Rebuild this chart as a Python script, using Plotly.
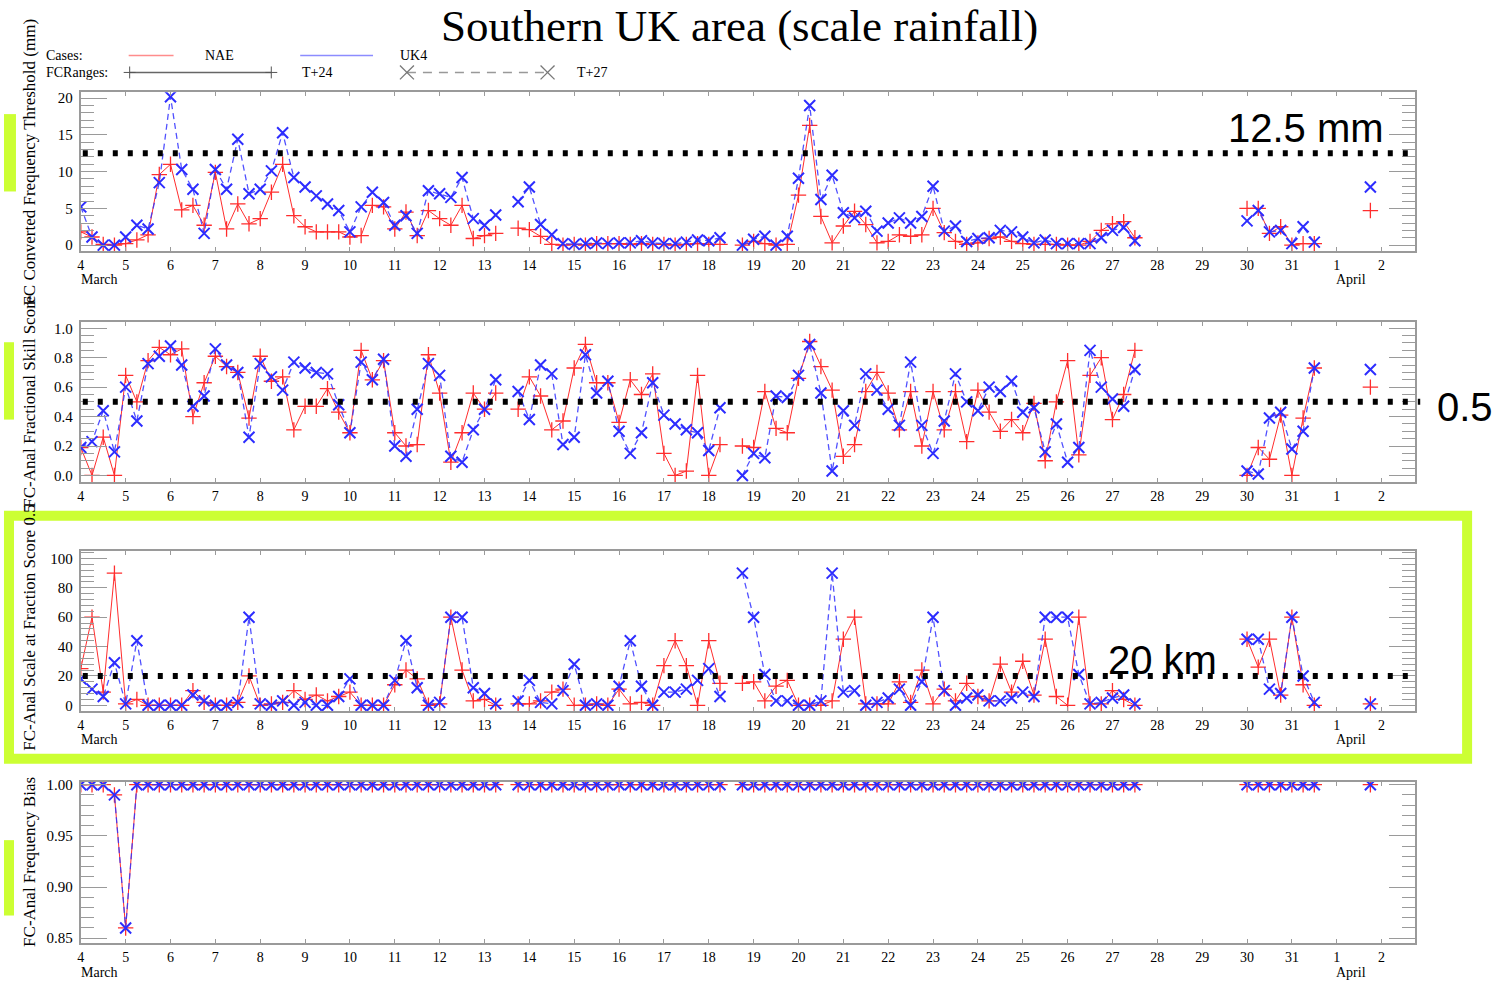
import plotly.graph_objects as go

W, H = 1505, 981

# ---------------- data ----------------
# 6-hourly validity times, expressed in days of March (32.75 = 18Z 1 April)
times = [4 + 0.25 * i for i in range(116)]

# FC converted frequency threshold (mm)
thr_nae = [1.8, 1.1, 0.1, 0.0, 0.2, 0.7, 1.4, 9.6, 11.0, 4.8, 5.4, 2.7, 9.9, 2.2, 5.6, 2.9, 3.6, 7.2, 11.0, 4.0,
           2.5, 1.8, 1.8, 1.8, 1.1, 1.3, 5.4, 5.2, 2.2, 4.5, 1.3, 4.7, 3.6, 2.7, 5.4, 0.9, 1.3, 1.6,
           None,
           2.3, 2.1, 1.2, 0.1, 0.0, 0.1, 0.0, 0.2, 0.2, 0.2, 0.1, 0.2, 0.1, 0.1, 0.0, 0.1, 0.2, 0.1, 0.1,
           None,
           0.0, 0.5, 0.2, 0.0, 0.1, 6.8, 16.3, 3.9, 0.3, 2.6, 4.6, 2.8, 0.3, 0.5, 1.4, 1.2, 1.4, 5.0, 1.7, 0.5,
           0.1, 0.3, 0.9, 1.1, 0.5, 0.2, 0.1, 0.1, 0.1, 0.0, 0.0, 0.5, 2.0, 2.9, 3.2, 1.0,
           None, None, None, None, None, None, None, None, None,
           5.0, 5.0, 1.6, 2.5, 0.0, 0.2, 0.2,
           None, None, None, None,
           4.7]
thr_uk4 = [5.2, 1.1, 0.0, 0.0, 1.1, 2.7, 2.2, 8.5, 20.2, 10.3, 7.6, 1.6, 10.3, 7.6, 14.4, 7.0, 7.6, 10.1, 15.3, 9.2,
           7.9, 6.7, 5.6, 4.7, 1.8, 5.2, 7.2, 5.8, 2.7, 4.0, 1.6, 7.4, 7.0, 6.5, 9.2, 3.6, 2.7, 4.1,
           None,
           5.9, 7.9, 2.8, 1.4, 0.2, 0.1, 0.2, 0.3, 0.2, 0.3, 0.3, 0.6, 0.3, 0.2, 0.2, 0.4, 0.7, 0.6, 1.0,
           None,
           0.0, 0.8, 1.2, 0.0, 1.2, 9.1, 19.0, 6.2, 9.5, 4.4, 3.7, 4.6, 1.9, 3.0, 3.7, 3.0, 3.9, 8.0, 1.9, 2.6,
           0.5, 0.9, 1.0, 2.0, 1.8, 1.1, 0.3, 0.7, 0.2, 0.2, 0.2, 0.2, 1.0, 2.0, 2.4, 0.6,
           None, None, None, None, None, None, None, None, None,
           3.3, 4.7, 1.8, 2.0, 0.2, 2.5, 0.4,
           None, None, None, None,
           7.9]

# FC-Anal fractional skill score
fss_nae = [0.19, 0.0, 0.26, 0.0, 0.68, 0.50, 0.78, 0.87, 0.82, 0.86, 0.40, 0.63, 0.81, 0.74, 0.70, 0.39, 0.81, 0.64,
           0.67, 0.31, 0.47, 0.47, 0.59, 0.43, 0.29, 0.85, 0.65, 0.78, 0.29, 0.20, 0.21, 0.82, 0.56, 0.09, 0.29,
           0.56, 0.45, 0.56,
           None,
           0.45, 0.67, 0.54, 0.31, 0.37, 0.73, 0.89, 0.63, 0.63, 0.36, 0.65, 0.55, 0.69, 0.15, 0.0, 0.03, 0.68,
           0.0, 0.21,
           None,
           0.20, 0.19, 0.57, 0.32, 0.29, 0.66, 0.91, 0.74, 0.58, 0.13, 0.21, 0.57, 0.70, 0.56, 0.31, 0.57, 0.20,
           0.57, 0.31, 0.57, 0.23, 0.58, 0.43, 0.30, 0.38, 0.29, 0.49, 0.10, 0.50, 0.78, 0.14, 0.68, 0.80, 0.38,
           0.55, 0.85,
           None, None, None, None, None, None, None, None, None,
           0.0, 0.19, 0.11, 0.41, 0.0, 0.39, 0.73,
           None, None, None, None,
           0.60]
fss_uk4 = [0.19, 0.23, 0.44, 0.16, 0.60, 0.37, 0.76, 0.81, 0.88, 0.75, 0.47, 0.54, 0.86, 0.75, 0.70, 0.26, 0.76, 0.67,
           0.58, 0.77, 0.73, 0.70, 0.69, 0.48, 0.29, 0.77, 0.65, 0.79, 0.20, 0.13, 0.45, 0.76, 0.68, 0.13, 0.09,
           0.31, 0.45, 0.65,
           None,
           0.57, 0.38, 0.75, 0.69, 0.21, 0.26, 0.82, 0.56, 0.64, 0.30, 0.15, 0.29, 0.63, 0.41, 0.35, 0.31, 0.29,
           0.17, 0.46,
           None,
           0.0, 0.15, 0.12, 0.54, 0.53, 0.68, 0.89, 0.56, 0.03, 0.44, 0.34, 0.69, 0.58, 0.45, 0.34, 0.77, 0.34,
           0.15, 0.37, 0.69, 0.50, 0.44, 0.60, 0.57, 0.64, 0.43, 0.46, 0.16, 0.35, 0.09, 0.19, 0.85, 0.60, 0.52,
           0.47, 0.72,
           None, None, None, None, None, None, None, None, None,
           0.03, 0.01, 0.39, 0.43, 0.18, 0.30, 0.73,
           None, None, None, None,
           0.72]

# FC-Anal scale (km) at fraction score 0.5
scl_nae = [25, 60, 9, 90, 1, 4, 0, 0, 0, 0, 10, 2, 0, 0, 2, 20, 0, 1, 2, 10, 4, 7, 3, 6, 9, 0, 0, 0, 14, 24, 18, 0,
           1, 60, 24, 3, 4, 0,
           None,
           1, 1, 3, 9, 11, 0, 0, 1, 0, 11, 1, 2, 0, 27, 44, 27, 0, 44, 15,
           None,
           15, 16, 3, 13, 17, 0, 0, 0, 3, 45, 60, 1, 1, 1, 16, 2, 24, 1, 11, 3, 15, 6, 3, 28, 9, 30, 7, 45, 6, 0,
           60, 1, 1, 10, 4, 0,
           None, None, None, None, None, None, None, None, None,
           45, 26, 45, 7, 60, 14, 0,
           None, None, None, None,
           1]
scl_uk4 = [18, 11, 6, 29, 1, 44, 0, 0, 0, 0, 7, 3, 0, 0, 2, 60, 1, 0, 3, 0, 2, 0, 0, 6, 18, 0, 0, 0, 17, 44, 12, 0,
           2, 60, 60, 12, 8, 1,
           None,
           3, 17, 2, 1, 10, 28, 0, 1, 0, 13, 44, 13, 0, 9, 9, 11, 17, 25, 6,
           None,
           90, 60, 21, 3, 3, 0, 0, 3, 90, 9, 10, 0, 2, 5, 11, 0, 16, 60, 10, 0, 5, 7, 3, 3, 5, 9, 6, 60, 60, 60,
           21, 1, 2, 5, 7, 1,
           None, None, None, None, None, None, None, None, None,
           45, 45, 11, 8, 60, 20, 2,
           None, None, None, None,
           1]

# FC-Anal frequency bias
bias_nae = [1.0, 1.0, 1.0, 0.99, 0.86, 1.0, 1.0, 1.0, 1.0, 1.0, 1.0, 1.0, 1.0, 1.0, 1.0, 1.0, 1.0, 1.0, 1.0,
            1.0, 1.0, 1.0, 1.0, 1.0, 1.0, 1.0, 1.0, 1.0, 1.0, 1.0, 1.0, 1.0, 1.0, 1.0, 1.0, 1.0, 1.0, 1.0,
            None,
            1.0, 1.0, 1.0, 1.0, 1.0, 1.0, 1.0, 1.0, 1.0, 1.0, 1.0, 1.0, 1.0, 1.0, 1.0, 1.0, 1.0, 1.0, 1.0,
            None,
            1.0, 1.0, 1.0, 1.0, 1.0, 1.0, 1.0, 1.0, 1.0, 1.0, 1.0, 1.0, 1.0, 1.0, 1.0, 1.0, 1.0, 1.0,
            1.0, 1.0, 1.0, 1.0, 1.0, 1.0, 1.0, 1.0, 1.0, 1.0, 1.0, 1.0, 1.0, 1.0, 1.0, 1.0, 1.0, 1.0,
            None, None, None, None, None, None, None, None, None,
            1.0, 1.0, 1.0, 1.0, 1.0, 1.0, 1.0,
            None, None, None, None,
            1.0]
bias_uk4 = [1.0, 1.0, 1.0, 0.99, 0.86, 1.0, 1.0, 1.0, 1.0, 1.0, 1.0, 1.0, 1.0, 1.0, 1.0, 1.0, 1.0, 1.0, 1.0,
            1.0, 1.0, 1.0, 1.0, 1.0, 1.0, 1.0, 1.0, 1.0, 1.0, 1.0, 1.0, 1.0, 1.0, 1.0, 1.0, 1.0, 1.0, 1.0,
            None,
            1.0, 1.0, 1.0, 1.0, 1.0, 1.0, 1.0, 1.0, 1.0, 1.0, 1.0, 1.0, 1.0, 1.0, 1.0, 1.0, 1.0, 1.0, 1.0,
            None,
            1.0, 1.0, 1.0, 1.0, 1.0, 1.0, 1.0, 1.0, 1.0, 1.0, 1.0, 1.0, 1.0, 1.0, 1.0, 1.0, 1.0, 1.0,
            1.0, 1.0, 1.0, 1.0, 1.0, 1.0, 1.0, 1.0, 1.0, 1.0, 1.0, 1.0, 1.0, 1.0, 1.0, 1.0, 1.0, 1.0,
            None, None, None, None, None, None, None, None, None,
            1.0, 1.0, 1.0, 1.0, 1.0, 1.0, 1.0,
            None, None, None, None,
            1.0]

tick_days = list(range(4, 34))
tick_text = [str(d) for d in range(4, 32)] + ["1", "2"]

title_text = "Southern UK area (scale rainfall)"
y_titles = ["FC Converted Frequency Threshold (mm)", "FC-Anal Fractional Skill Score",
            "FC-Anal Scale at Fraction Score 0.5", "FC-Anal Frequency Bias"]
thr_level = 12.5
fss_level = 0.5
scale_level = 20

# ---------------- styling ----------------
SERIF = "Liberation Serif, Times New Roman, serif"
SANS = "Liberation Sans, Arial, sans-serif"
RED = "rgb(255,45,45)"
BLUE = "rgb(45,45,255)"
AXC = "#9a9a9a"
GREEN = "#ccff33"


def px(x):
    return x / W


def py(y):
    return 1 - y / H


panels = [
    dict(top=88, bot=248, rng=[-0.8, 20.8], dtick=5, minor=1, fmt="d", nae=thr_nae, uk4=thr_uk4, yc=158),
    dict(top=320, bot=481, rng=[-0.045, 1.04], dtick=0.2, minor=0.05, fmt=".1f", nae=fss_nae, uk4=fss_uk4, yc=400),
    dict(top=550, bot=712, rng=[-4, 105.4], dtick=20, minor=4, fmt="d", nae=scl_nae, uk4=scl_uk4, yc=628),
    dict(top=783, bot=946, rng=[0.845, 1.003], dtick=0.05, minor=0.01, fmt=".2f", nae=bias_nae, uk4=bias_uk4, yc=864),
]

fig = go.Figure()
layout = dict(width=W, height=H, margin=dict(l=0, r=0, t=0, b=0), paper_bgcolor="white",
              plot_bgcolor="white", showlegend=False)
annotations = []
shapes = []

for k, p in enumerate(panels, 1):
    xs = "" if k == 1 else str(k)
    xa, ya = "x" + xs, "y" + xs
    fig.add_trace(go.Scatter(
        x=times, y=p["nae"], xaxis=xa, yaxis=ya, mode="lines+markers", connectgaps=False,
        line=dict(color=RED, width=1),
        marker=dict(symbol="cross-thin", size=11, color=RED, line=dict(color=RED, width=1.3)),
        hoverinfo="skip"))
    fig.add_trace(go.Scatter(
        x=times, y=p["uk4"], xaxis=xa, yaxis=ya, mode="lines+markers", connectgaps=False,
        line=dict(color="rgba(50,50,255,0.85)", width=1.3, dash="6px,4px"),
        marker=dict(symbol="x-thin", size=11, color=BLUE, line=dict(color=BLUE, width=2)),
        hoverinfo="skip"))
    layout["xaxis" + xs] = dict(
        domain=[px(77), px(1415)], anchor=ya, range=[4, 33.75], tickmode="array",
        tickvals=tick_days, ticktext=tick_text, ticks="inside", ticklen=4, tickcolor=AXC,
        showline=True, linecolor=AXC, linewidth=2, mirror="ticks", showgrid=False, zeroline=False,
        tickfont=dict(family=SERIF, size=14, color="black"))
    layout["yaxis" + xs] = dict(
        domain=[py(p["bot"]), py(p["top"])], anchor=xa, range=p["rng"], tick0=0, dtick=p["dtick"],
        tickformat=p["fmt"], ticks="inside", ticklen=26, tickcolor=AXC, tickwidth=1,
        minor=dict(dtick=p["minor"], ticks="inside", ticklen=13, tickcolor=AXC, tickwidth=1),
        showline=True, linecolor=AXC, linewidth=2, mirror="ticks", showgrid=False, zeroline=False,
        ticklabelstandoff=3, tickfont=dict(family=SERIF, size=15, color="black"))
    # rotated y titles
    annotations.append(dict(text=y_titles[k - 1], x=px(26), y=py(p["yc"]), xref="paper", yref="paper",
                            textangle=-90, showarrow=False, xanchor="center", yanchor="middle",
                            font=dict(family=SERIF, size=17, color="black")))
    if k != 2:
        for lbl, d in (("March", 77), ("April", 1336)):
            annotations.append(dict(text=lbl, x=px(d - 2), y=py(p["bot"] + 29), xref="paper", yref="paper",
                                    showarrow=False, xanchor="left", yanchor="middle",
                                    font=dict(family=SERIF, size=14, color="black")))

# threshold dotted lines
for yref, lev, x1 in (("y", thr_level, 1412), ("y2", fss_level, 1420), ("y3", scale_level, 1415)):
    shapes.append(dict(type="line", xref="paper", yref=yref, x0=px(79), x1=px(x1), y0=lev, y1=lev,
                       line=dict(color="black", width=6, dash="5px,10px"), layer="above"))

# green highlight boxes
for (x0, x1, y0, y1) in ((0, 12, 110, 188), (0, 10, 340, 418), (0, 10, 842, 918)):
    shapes.append(dict(type="rect", xref="paper", yref="paper", x0=px(x0), x1=px(x1), y0=py(y0), y1=py(y1),
                       fillcolor=GREEN, line=dict(width=0), layer="above"))
shapes.append(dict(type="rect", xref="paper", yref="paper", x0=px(5), x1=px(1467), y0=py(515), y1=py(760),
                   line=dict(color=GREEN, width=10), fillcolor="rgba(0,0,0,0)", layer="above"))

# legend decorations
shapes += [
    dict(type="line", xref="paper", yref="paper", x0=px(125), x1=px(170), y0=py(51), y1=py(51),
         line=dict(color="rgb(255,140,140)", width=1.5)),
    dict(type="line", xref="paper", yref="paper", x0=px(297), x1=px(370), y0=py(51), y1=py(51),
         line=dict(color="rgb(140,140,255)", width=1.5)),
    dict(type="line", xref="paper", yref="paper", x0=px(126), x1=px(268), y0=py(68), y1=py(68),
         line=dict(color="#666666", width=1.5)),
    dict(type="line", xref="paper", yref="paper", x0=px(404), x1=px(545), y0=py(68), y1=py(68),
         line=dict(color="#999999", width=1.5, dash="9px,7px")),
]
for cx in (126, 268):
    shapes.append(dict(type="line", xref="paper", yref="paper", x0=px(cx - 6), x1=px(cx + 6), y0=py(68), y1=py(68),
                       line=dict(color="#555555", width=1)))
    shapes.append(dict(type="line", xref="paper", yref="paper", x0=px(cx), x1=px(cx), y0=py(62), y1=py(74),
                       line=dict(color="#555555", width=1)))
for cx in (404, 545):
    shapes.append(dict(type="line", xref="paper", yref="paper", x0=px(cx - 7), x1=px(cx + 7), y0=py(61), y1=py(75),
                       line=dict(color="#777777", width=1.3)))
    shapes.append(dict(type="line", xref="paper", yref="paper", x0=px(cx - 7), x1=px(cx + 7), y0=py(75), y1=py(61),
                       line=dict(color="#777777", width=1.3)))

for txt, x, y in (("Cases:", 40, 51), ("NAE", 200, 51), ("UK4", 395, 51),
                  ("FCRanges:", 40, 68), ("T+24", 297, 68), ("T+27", 573, 68)):
    annotations.append(dict(text=txt, x=px(x), y=py(y), xref="paper", yref="paper", showarrow=False,
                            xanchor="left", yanchor="middle", font=dict(family=SERIF, size=14, color="black")))

# title
annotations.append(dict(text=title_text, x=px(737), y=py(21), xref="paper", yref="paper", showarrow=False,
                        xanchor="center", yanchor="middle", font=dict(family=SERIF, size=45, color="black")))

# threshold labels
for txt, x, y in (("12.5 mm", 1305, 124), ("0.5", 1465, 405), ("20 km", 1162, 660)):
    annotations.append(dict(text=txt, x=px(x), y=py(y), xref="paper", yref="paper", showarrow=False,
                            xanchor="center", yanchor="middle", font=dict(family=SANS, size=40, color="black")))

layout["shapes"] = shapes
layout["annotations"] = annotations
fig.update_layout(**layout)
fig.write_html("out.html")
